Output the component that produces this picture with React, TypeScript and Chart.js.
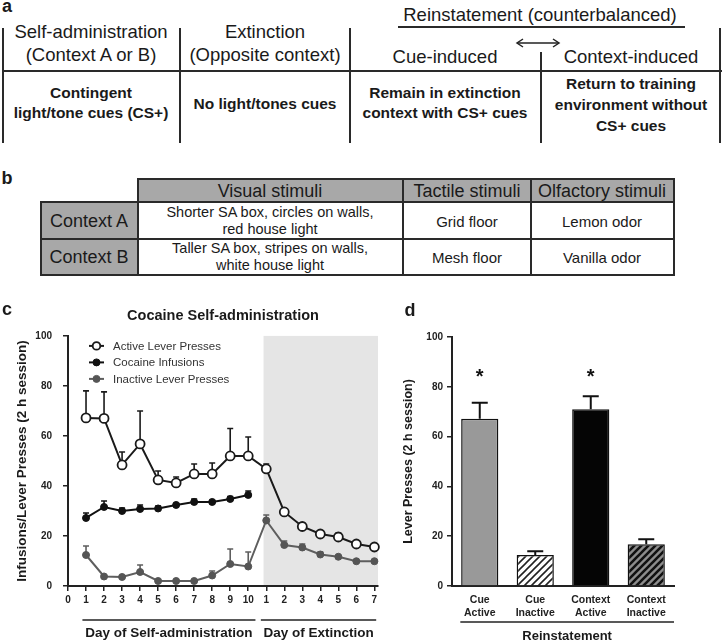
import React, { useEffect, useRef } from 'react';
import { Chart, registerables } from 'chart.js';

Chart.register(...registerables);

const FONT = '"Liberation Sans", Arial, Helvetica, sans-serif';
Chart.defaults.font.family = FONT;
Chart.defaults.color = '#222';

// ---------------- Panel c data ----------------
const dayPositions = [1, 2, 3, 4, 5, 6, 7, 8, 9, 10, 11, 12, 13, 14, 15, 16, 17];
const dayTickLabels = ['0', '1', '2', '3', '4', '5', '6', '7', '8', '9', '10', '1', '2', '3', '4', '5', '6', '7'];
const activeMeans = [67.2, 67, 48.4, 56.8, 42.4, 41.2, 44.8, 44.8, 52, 52, 46.8, 29.6, 23.8, 20.8, 19.6, 16.8, 15.6];
const activeSems = [10.8, 10.6, 5.2, 13.2, 3.6, 2.4, 4, 4.4, 11, 7.6, 2, 1, 1.4, 1.2, 1.6, 1, 1.2];
const infusionDays = [1, 2, 3, 4, 5, 6, 7, 8, 9, 10];
const infusionMeans = [27.2, 31.6, 30, 30.8, 31, 32.4, 33.6, 33.6, 34.8, 36.4];
const infusionSems = [2, 2.4, 1.2, 1.6, 1, 0.6, 1.2, 0.6, 1, 1.6];
const inactiveMeans = [12.4, 3.8, 3.6, 5.6, 2, 2, 2, 4.2, 8.8, 7.8, 26.2, 16.4, 15.4, 12.6, 11.7, 9.9, 9.9];
const inactiveSems = [3.6, 0.4, 0.6, 2.8, 0.2, 0.2, 0.2, 1.8, 6, 5.8, 2.2, 1.6, 1.4, 1, 0.4, 0.3, 0.3];
const seriesNames = ['Active Lever Presses', 'Cocaine Infusions', 'Inactive Lever Presses'];
const extinctionStart = 10.85;
const dayGroups = [
  { from: 0.8, to: 10.4, text: 'Day of Self-administration' },
  { from: 10.7, to: 17.1, text: 'Day of Extinction' },
];

// ---------------- Panel d data ----------------
const reinstCategories = [['Cue', 'Active'], ['Cue', 'Inactive'], ['Context', 'Active'], ['Context', 'Inactive']];
const reinstMeans = [67.2, 12.4, 71, 16.8];
const reinstSems = [6.4, 1.6, 5.2, 2.0];
const reinstSignificant = [true, false, true, false];
const starLevel = 86;
const reinstGroups = [{ from: -0.35, to: 3.5, text: 'Reinstatement' }];

// ---------------- plugins ----------------
function drawErrorBars(chart: any, capHalf: number, lw: number) {
  const { ctx } = chart;
  const y = chart.scales.y;
  chart.data.datasets.forEach((ds: any, i: number) => {
    const sems = ds.sems;
    if (!sems) return;
    const meta = chart.getDatasetMeta(i);
    ctx.save();
    ctx.strokeStyle = ds.errorColor || ds.borderColor;
    ctx.lineWidth = lw;
    meta.data.forEach((el: any, j: number) => {
      const raw = ds.data[j];
      const v = typeof raw === 'number' ? raw : raw.y;
      const top = y.getPixelForValue(v + sems[j]);
      ctx.beginPath();
      ctx.moveTo(el.x, el.y);
      ctx.lineTo(el.x, top);
      ctx.moveTo(el.x - capHalf, top);
      ctx.lineTo(el.x + capHalf, top);
      ctx.stroke();
    });
    ctx.restore();
  });
}

const lineErrorBars = {
  id: 'lineErrorBars',
  beforeDatasetsDraw(chart: any) { drawErrorBars(chart, 3, 1.6); },
};
const barErrorBars = {
  id: 'barErrorBars',
  afterDatasetsDraw(chart: any) { drawErrorBars(chart, 8, 2); },
};

const shading = {
  id: 'shading',
  beforeDraw(chart: any) {
    const { ctx, chartArea, scales } = chart;
    const x1 = scales.x.getPixelForValue(extinctionStart);
    ctx.save();
    ctx.fillStyle = '#e5e5e5';
    ctx.fillRect(x1, chartArea.top, chartArea.right - x1, chartArea.bottom - chartArea.top - 1);
    ctx.restore();
  },
};

const insideLegend = {
  id: 'insideLegend',
  afterDraw(chart: any) {
    const { ctx, chartArea } = chart;
    ctx.save();
    chart.data.datasets.forEach((ds: any, i: number) => {
      const y = chartArea.top + 10 + i * 16.5;
      const x0 = chartArea.left + 21;
      ctx.strokeStyle = ds.borderColor;
      ctx.lineWidth = 2;
      ctx.beginPath();
      ctx.moveTo(x0, y);
      ctx.lineTo(x0 + 15, y);
      ctx.stroke();
      ctx.beginPath();
      ctx.arc(x0 + 7.5, y, Math.min(ds.pointRadius, 3.8), 0, Math.PI * 2);
      ctx.fillStyle = ds.pointBackgroundColor;
      ctx.fill();
      ctx.lineWidth = ds.pointBorderWidth;
      ctx.strokeStyle = ds.pointBorderColor;
      ctx.stroke();
      ctx.fillStyle = '#333';
      ctx.font = `11.5px ${FONT}`;
      ctx.textBaseline = 'middle';
      ctx.textAlign = 'left';
      ctx.fillText(ds.label, x0 + 24, y + 0.5);
    });
    ctx.restore();
  },
};

const groupLabels = {
  id: 'groupLabels',
  afterDraw(chart: any, _args: any, opts: any) {
    const { ctx, chartArea, scales } = chart;
    ctx.save();
    (opts.groups || []).forEach((g: any) => {
      const x1 = scales.x.getPixelForValue(g.from);
      const x2 = scales.x.getPixelForValue(g.to);
      const ly = chartArea.bottom + opts.lineOffset;
      ctx.strokeStyle = '#222';
      ctx.lineWidth = 1.5;
      ctx.beginPath();
      ctx.moveTo(x1, ly);
      ctx.lineTo(x2, ly);
      ctx.stroke();
      ctx.fillStyle = '#1a1a1a';
      ctx.font = `bold ${opts.size}px ${FONT}`;
      ctx.textAlign = 'center';
      ctx.textBaseline = 'middle';
      ctx.fillText(g.text, (x1 + x2) / 2, chartArea.bottom + opts.textOffset);
    });
    ctx.restore();
  },
};

const stars = {
  id: 'stars',
  afterDatasetsDraw(chart: any) {
    const { ctx, scales } = chart;
    const meta = chart.getDatasetMeta(0);
    const y = scales.y.getPixelForValue(starLevel);
    ctx.save();
    ctx.fillStyle = '#111';
    ctx.font = `bold 20px ${FONT}`;
    ctx.textAlign = 'center';
    ctx.textBaseline = 'alphabetic';
    reinstSignificant.forEach((s, i) => {
      if (s) ctx.fillText('*', meta.data[i].x, y + 0.58 * 20);
    });
    ctx.restore();
  },
};

function hatch(bg: string, fg: string, lw: number, size = 7) {
  const c = document.createElement('canvas');
  c.width = size;
  c.height = size;
  const g = c.getContext('2d')!;
  g.fillStyle = bg;
  g.fillRect(0, 0, size, size);
  g.strokeStyle = fg;
  g.lineWidth = lw;
  g.beginPath();
  g.moveTo(0, size);
  g.lineTo(size, 0);
  g.moveTo(-2, 2);
  g.lineTo(2, -2);
  g.moveTo(size - 2, size + 2);
  g.lineTo(size + 2, size - 2);
  g.stroke();
  return g.createPattern(c, 'repeat');
}

// ---------------- chart configs ----------------
function lineConfig(): any {
  return {
    type: 'line',
    data: {
      datasets: [
        {
          label: seriesNames[0],
          data: dayPositions.map((x, i) => ({ x, y: activeMeans[i] })),
          sems: activeSems,
          borderColor: '#1a1a1a',
          borderWidth: 2,
          pointRadius: 4.5,
          pointBackgroundColor: '#ffffff',
          pointBorderColor: '#1a1a1a',
          pointBorderWidth: 1.8,
          clip: false,
        },
        {
          label: seriesNames[1],
          data: infusionDays.map((x, i) => ({ x, y: infusionMeans[i] })),
          sems: infusionSems,
          borderColor: '#111111',
          borderWidth: 2,
          pointRadius: 3.5,
          pointBackgroundColor: '#111111',
          pointBorderColor: '#111111',
          pointBorderWidth: 1,
          clip: false,
        },
        {
          label: seriesNames[2],
          data: dayPositions.map((x, i) => ({ x, y: inactiveMeans[i] })),
          sems: inactiveSems,
          borderColor: '#5e5e5e',
          borderWidth: 2,
          pointRadius: 3.5,
          pointBackgroundColor: '#555555',
          pointBorderColor: '#555555',
          pointBorderWidth: 1,
          clip: false,
        },
      ],
    },
    options: {
      animation: false,
      responsive: false,
      maintainAspectRatio: false,
      layout: { padding: { left: 0, top: 0, right: 22, bottom: 0 } },
      plugins: {
        legend: { display: false },
        tooltip: { enabled: false },
        title: {
          display: true,
          text: 'Cocaine Self-administration',
          fullSize: false,
          color: '#1a1a1a',
          font: { family: FONT, size: 14.5, weight: 'bold' },
          padding: { top: 17.5, bottom: 11 },
        },
        groupLabels: { groups: dayGroups, lineOffset: 34, textOffset: 47, size: 13.5 },
      },
      scales: {
        x: {
          type: 'linear',
          min: 0,
          max: 17.2,
          afterBuildTicks: (s: any) => { s.ticks = dayTickLabels.map((_, i) => ({ value: i })); },
          afterFit: (s: any) => { s.height = 56; },
          ticks: {
            autoSkip: false,
            maxRotation: 0,
            padding: 3,
            color: '#222',
            font: { family: FONT, size: 10, weight: 'bold' },
            callback: (v: any) => dayTickLabels[Math.round(v)],
          },
          grid: { drawOnChartArea: false, drawTicks: true, tickLength: 5, color: '#222', lineWidth: 1.5 },
          border: { display: true, color: '#222', width: 2 },
        },
        y: {
          min: 0,
          max: 100,
          afterFit: (s: any) => { s.width = 68; },
          ticks: {
            stepSize: 20,
            padding: 11,
            color: '#222',
            font: { family: FONT, size: 10, weight: 'bold' },
          },
          grid: { drawOnChartArea: false, drawTicks: true, tickLength: 5, color: '#222', lineWidth: 1.5 },
          border: { display: true, color: '#222', width: 2 },
          title: {
            display: true,
            text: 'Infusions/Lever Presses (2 h session)',
            color: '#1a1a1a',
            font: { family: FONT, size: 13.5, weight: 'bold' },
            padding: { top: 14, bottom: 0 },
          },
        },
      },
    },
    plugins: [shading, lineErrorBars, insideLegend, groupLabels],
  };
}

function barConfig(): any {
  const fills = [
    '#999999',
    hatch('#ffffff', '#222222', 1.6),
    '#050505',
    hatch('#8c8c8c', '#111111', 2.6),
  ];
  return {
    type: 'bar',
    data: {
      labels: reinstCategories,
      datasets: [
        {
          data: reinstMeans,
          sems: reinstSems,
          errorColor: '#111',
          backgroundColor: fills,
          borderColor: '#111',
          borderWidth: 1.5,
          barPercentage: 0.67,
          categoryPercentage: 1,
        },
      ],
    },
    options: {
      animation: false,
      responsive: false,
      maintainAspectRatio: false,
      layout: { padding: { left: 0, top: 47, right: 52, bottom: 0 } },
      plugins: {
        legend: { display: false },
        tooltip: { enabled: false },
        groupLabels: { groups: reinstGroups, lineOffset: 36, textOffset: 50, size: 13 },
      },
      scales: {
        x: {
          afterFit: (s: any) => { s.height = 56; },
          ticks: {
            padding: 8,
            maxRotation: 0,
            autoSkip: false,
            color: '#222',
            font: { family: FONT, size: 10.5, weight: 'bold', lineHeight: 1.2 },
          },
          grid: { display: false, drawTicks: false },
          border: { display: true, color: '#222', width: 2 },
        },
        y: {
          min: 0,
          max: 100,
          afterFit: (s: any) => { s.width = 52; },
          ticks: {
            stepSize: 20,
            padding: 4,
            color: '#222',
            font: { family: FONT, size: 10, weight: 'bold' },
          },
          grid: { drawOnChartArea: false, drawTicks: true, tickLength: 5, color: '#222', lineWidth: 1.5 },
          border: { display: true, color: '#222', width: 2 },
          title: {
            display: true,
            text: 'Lever Presses (2 h session)',
            color: '#1a1a1a',
            font: { family: FONT, size: 12.5, weight: 'bold' },
            padding: { top: 1.5, bottom: 0 },
          },
        },
      },
    },
    plugins: [barErrorBars, stars, groupLabels],
  };
}

function ChartCanvas({ make, left, top, width, height }: any) {
  const ref = useRef<HTMLCanvasElement>(null);
  useEffect(() => {
    const chart = new Chart(ref.current as HTMLCanvasElement, make());
    return () => chart.destroy();
  }, []);
  return (
    <canvas
      ref={ref}
      width={width}
      height={height}
      style={{ position: 'absolute', left, top, width, height }}
    />
  );
}

// ---------------- static text helpers ----------------
function T({ x, y, size, bold, children }: any) {
  return (
    <div
      style={{
        position: 'absolute',
        left: x,
        top: y,
        transform: 'translate(-50%,-50%)',
        whiteSpace: 'nowrap',
        fontSize: size,
        fontWeight: bold ? 700 : 400,
        lineHeight: 1,
      }}
    >
      {children}
    </div>
  );
}
function H({ x1, x2, y, t = 2, c = '#2a2a2a' }: any) {
  return <div style={{ position: 'absolute', left: x1, top: y - t / 2, width: x2 - x1, height: t, background: c }} />;
}
function V({ x, y1, y2, t = 2, c = '#2a2a2a' }: any) {
  return <div style={{ position: 'absolute', left: x - t / 2, top: y1, width: t, height: y2 - y1, background: c }} />;
}
function Box({ x1, x2, y1, y2, c }: any) {
  return <div style={{ position: 'absolute', left: x1, top: y1, width: x2 - x1, height: y2 - y1, background: c }} />;
}

const GRAY = '#a8a8a8';

export default function App() {
  return (
    <div
      style={{
        position: 'absolute',
        left: 0,
        top: 0,
        width: 726,
        height: 642,
        background: '#fff',
        overflow: 'hidden',
        fontFamily: FONT,
        color: '#1a1a1a',
      }}
    >
      {/* Panel a */}
      <T x={7} y={6} size={18} bold>a</T>
      <T x={540} y={15} size={18.5}>Reinstatement (counterbalanced)</T>
      <H x1={398} x2={685} y={27} />
      <T x={91} y={32} size={18.5}>Self-administration</T>
      <T x={91} y={55} size={18.5}>(Context A or B)</T>
      <T x={265} y={32} size={18.5}>Extinction</T>
      <T x={265} y={55} size={18.5}>(Opposite context)</T>
      <T x={445} y={57} size={18.5}>Cue-induced</T>
      <T x={631} y={57} size={18.5}>Context-induced</T>
      <svg style={{ position: 'absolute', left: 512, top: 36, width: 52, height: 14 }}>
        <line x1={6} y1={7} x2={46} y2={7} stroke="#222" strokeWidth={1.3} />
        <polyline points="11,3 5,7 11,11" fill="none" stroke="#222" strokeWidth={1.5} />
        <polyline points="41,3 47,7 41,11" fill="none" stroke="#222" strokeWidth={1.5} />
      </svg>
      <H x1={3} x2={722} y={71} />
      <V x={3} y1={28} y2={143} />
      <V x={180} y1={28} y2={143} />
      <V x={350} y1={28} y2={143} />
      <V x={720} y1={28} y2={143} />
      <V x={541} y1={52} y2={143} />
      <T x={91} y={93} size={15.5} bold>Contingent</T>
      <T x={91} y={113} size={15.5} bold>light/tone cues (CS+)</T>
      <T x={265} y={104} size={15.5} bold>No light/tones cues</T>
      <T x={445} y={93} size={15.5} bold>Remain in extinction</T>
      <T x={445} y={113} size={15.5} bold>context with CS+ cues</T>
      <T x={631} y={84} size={15.5} bold>Return to training</T>
      <T x={631} y={105} size={15.5} bold>environment without</T>
      <T x={631} y={126} size={15.5} bold>CS+ cues</T>

      {/* Panel b */}
      <T x={7} y={178} size={18} bold>b</T>
      <Box x1={138} x2={674} y1={179} y2={202} c={GRAY} />
      <Box x1={41} x2={138} y1={202} y2={275} c={GRAY} />
      <H x1={137} x2={675} y={179} />
      <H x1={40} x2={675} y={202} />
      <H x1={40} x2={675} y={239} />
      <H x1={40} x2={675} y={275} />
      <V x={41} y1={201} y2={276} />
      <V x={138} y1={178} y2={276} />
      <V x={403} y1={178} y2={276} />
      <V x={531} y1={178} y2={276} />
      <V x={674} y1={178} y2={276} />
      <T x={270} y={191} size={18}>Visual stimuli</T>
      <T x={467} y={191} size={18}>Tactile stimuli</T>
      <T x={602} y={191} size={18}>Olfactory stimuli</T>
      <T x={89} y={221} size={18}>Context A</T>
      <T x={89} y={257} size={18}>Context B</T>
      <T x={270} y={212} size={14.5}>Shorter SA box, circles on walls,</T>
      <T x={270} y={229} size={14.5}>red house light</T>
      <T x={270} y={248} size={14.5}>Taller SA box, stripes on walls,</T>
      <T x={270} y={265} size={14.5}>white house light</T>
      <T x={467} y={221} size={15}>Grid floor</T>
      <T x={467} y={257} size={15}>Mesh floor</T>
      <T x={602} y={221} size={15}>Lemon odor</T>
      <T x={602} y={257} size={15}>Vanilla odor</T>

      {/* Panel c */}
      <ChartCanvas make={lineConfig} left={0} top={290} width={400} height={352} />
      <T x={7} y={309} size={18} bold>c</T>

      {/* Panel d */}
      <ChartCanvas make={barConfig} left={400} top={290} width={326} height={352} />
      <T x={410} y={310} size={18} bold>d</T>
    </div>
  );
}
